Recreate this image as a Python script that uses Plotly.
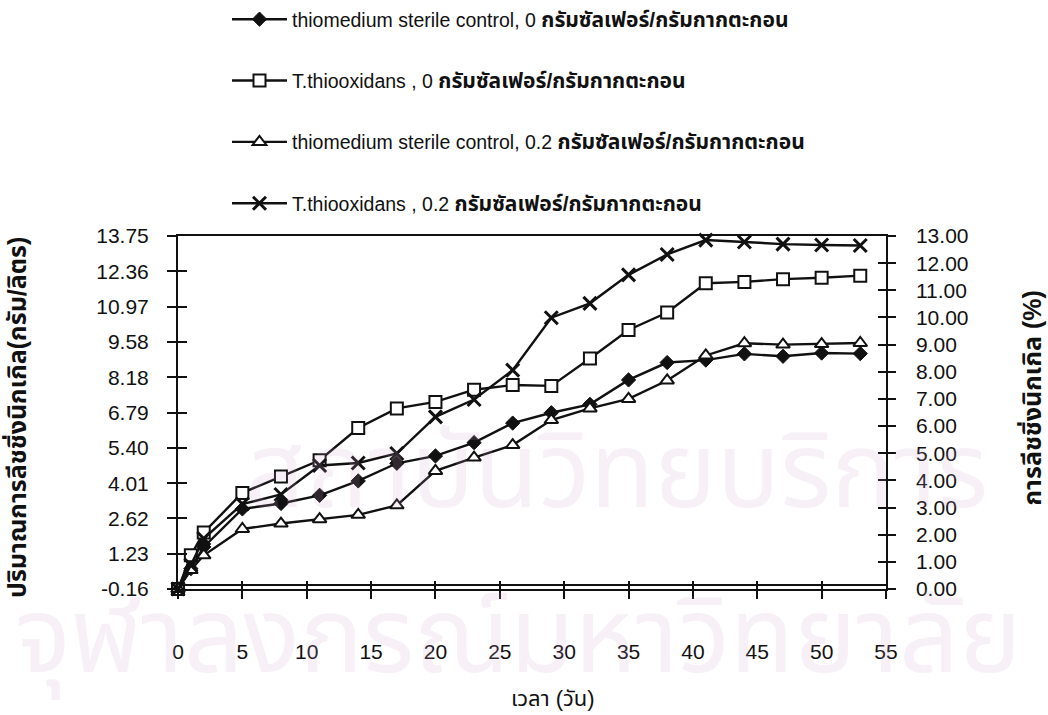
import plotly.graph_objects as go

# Sampling days
days = [0, 1, 2, 5, 8, 11, 14, 17, 20, 23, 26, 29, 32, 35, 38, 41, 44, 47, 50, 53]

# Nickel leaching (%) for each treatment
control_0s = [0.0, 0.75, 1.55, 2.95, 3.15, 3.45, 3.98, 4.63, 4.90, 5.39, 6.11, 6.49,
              6.80, 7.70, 8.34, 8.43, 8.66, 8.57, 8.69, 8.67]
thio_0s = [0.0, 1.24, 2.08, 3.54, 4.14, 4.74, 5.93, 6.65, 6.89, 7.34, 7.51, 7.48,
           8.49, 9.54, 10.18, 11.26, 11.31, 11.41, 11.46, 11.54]
control_02s = [0.0, 0.70, 1.24, 2.21, 2.41, 2.57, 2.73, 3.08, 4.35, 4.84, 5.30, 6.22,
               6.65, 7.00, 7.68, 8.60, 9.05, 9.00, 9.02, 9.06]
thio_02s = [0.0, 0.88, 1.86, 3.13, 3.48, 4.55, 4.64, 4.99, 6.34, 6.98, 8.06, 9.99,
            10.52, 11.57, 12.32, 12.85, 12.78, 12.70, 12.67, 12.65]

unit_text = "กรัมซัลเฟอร์/กรัมกากตะกอน"
series_labels = [
    "thiomedium sterile control, 0",
    "T.thiooxidans , 0",
    "thiomedium sterile control, 0.2",
    "T.thiooxidans , 0.2",
]

# Axis tick labels
left_tick_labels = ["-0.16", "1.23", "2.62", "4.01", "5.40", "6.79",
                    "8.18", "9.58", "10.97", "12.36", "13.75"]
right_tick_values = list(range(0, 14))
x_tick_values = list(range(0, 56, 5))

left_title = "<b>ปริมาณการลีชชิ่งนิกเกิล(กรัม/ลิตร)</b>"
right_title = "<b>การลีชชิ่งนิกเกิล (%)</b>"
x_title = "เวลา (วัน)"
watermark_lines = ["สถาบันวิทยบริการ", "จุฬาลงกรณ์มหาวิทยาลัย"]

FONT = "Liberation Sans, Arial, Noto Sans Thai, Loma, Garuda, sans-serif"
BLACK = "#111111"

left_tick_values = [float(t) for t in left_tick_labels]

fig = go.Figure()

styles = [
    dict(symbol="diamond", size=11, color=BLACK, line=dict(color=BLACK, width=1)),
    dict(symbol="square", size=12, color="white", line=dict(color=BLACK, width=2)),
    dict(symbol="triangle-up", size=12, color="white", line=dict(color=BLACK, width=2)),
    dict(symbol="x-thin", size=13, color=BLACK, line=dict(color=BLACK, width=3)),
]

for i, (label, vals, mk) in enumerate(zip(series_labels,
                                          [control_0s, thio_0s, control_02s, thio_02s],
                                          styles)):
    name = f"{label} <span style='font-size:21px'><b>{unit_text}</b></span>"
    fig.add_trace(go.Scatter(
        x=days, y=vals, name=name, mode="lines+markers",
        xaxis="x", yaxis="y2", legendgroup=f"g{i}",
        line=dict(color=BLACK, width=2.4),
        marker=mk, cliponaxis=False,
    ))

# empty traces so every overlaid axis is drawn
for xa, ya in [("x", "y"), ("x2", "y3"), ("x", "y4")]:
    fig.add_trace(go.Scatter(x=[], y=[], xaxis=xa, yaxis=ya,
                             showlegend=False, hoverinfo="skip"))

tick_font = dict(family=FONT, size=21, color=BLACK)

fig.update_layout(
    template="none",
    width=1048, height=715,
    paper_bgcolor="white", plot_bgcolor="rgba(0,0,0,0)",
    margin=dict(l=178, r=162, t=236, b=126, autoexpand=False),
    font=dict(family=FONT, color=BLACK),
    showlegend=True,
    legend=dict(
        xref="container", yref="container",
        x=0.2166, y=1.002, xanchor="left", yanchor="top",
        font=dict(family=FONT, size=19.5, color=BLACK),
        tracegroupgap=33, itemwidth=55, bgcolor="rgba(0,0,0,0)",
    ),
    xaxis=dict(
        range=[0, 55], tickvals=x_tick_values, ticks="outside", ticklen=8,
        tickwidth=1.5, tickcolor=BLACK, showline=True, linecolor=BLACK,
        linewidth=2, mirror=True, showgrid=False, zeroline=False,
        tickfont=tick_font, ticklabelstandoff=35, anchor="y",
        automargin=False,
    ),
    xaxis2=dict(
        range=[0, 55], tickvals=x_tick_values, ticks="inside", ticklen=8,
        tickwidth=1.5, tickcolor=BLACK, showline=False, showgrid=False,
        zeroline=False, showticklabels=False, overlaying="x", anchor="y",
        side="bottom",
    ),
    yaxis=dict(
        range=[-0.16, 13.75], tickvals=left_tick_values, ticktext=left_tick_labels,
        ticks="outside", ticklen=9, tickwidth=1.5, tickcolor=BLACK,
        showline=True, linecolor=BLACK, linewidth=2, showgrid=False,
        zeroline=True, zerolinecolor=BLACK, zerolinewidth=1.5,
        tickfont=tick_font, ticklabelstandoff=14, side="left", anchor="x",
        automargin=False,
    ),
    yaxis2=dict(
        range=[0, 13], tickvals=right_tick_values, tickformat=".2f",
        ticks="outside", ticklen=8, tickwidth=1.5, tickcolor=BLACK,
        showline=True, linecolor=BLACK, linewidth=1.5, showgrid=False,
        zeroline=False, tickfont=tick_font, ticklabelstandoff=16,
        side="right", overlaying="y", anchor="x", automargin=False,
    ),
    yaxis3=dict(
        range=[-0.16, 13.75], tickvals=left_tick_values, ticks="inside",
        ticklen=9, tickwidth=1.5, tickcolor=BLACK, showline=False,
        showgrid=False, zeroline=False, showticklabels=False,
        side="left", overlaying="y", anchor="x",
    ),
    yaxis4=dict(
        range=[0, 13], tickvals=right_tick_values, ticks="inside", ticklen=8,
        tickwidth=1.5, tickcolor=BLACK, showline=False, showgrid=False,
        zeroline=False, showticklabels=False, side="right",
        overlaying="y", anchor="x",
    ),
)

watermark_font = dict(family=FONT, size=105, color="rgba(205,160,205,0.16)")
annotations = [
    dict(text=watermark_lines[0], x=0.62, y=0.165, xref="paper", yref="paper",
         showarrow=False, font=watermark_font),
    dict(text=watermark_lines[1], x=0.48, y=-0.32, xref="paper", yref="paper",
         showarrow=False, font=watermark_font),
    dict(text=left_title, x=-0.229, y=0.487, xref="paper", yref="paper",
         textangle=-90, showarrow=False, xanchor="center", yanchor="middle",
         font=dict(family=FONT, size=25, color=BLACK)),
    dict(text=right_title, x=1.205, y=0.54, xref="paper", yref="paper",
         textangle=-90, showarrow=False, xanchor="center", yanchor="middle",
         font=dict(family=FONT, size=25, color=BLACK)),
    dict(text=x_title, x=0.53, y=-0.31, xref="paper", yref="paper",
         showarrow=False, xanchor="center", yanchor="middle",
         font=dict(family=FONT, size=22, color=BLACK)),
]
fig.update_layout(annotations=annotations)

fig.write_html("out.html")
